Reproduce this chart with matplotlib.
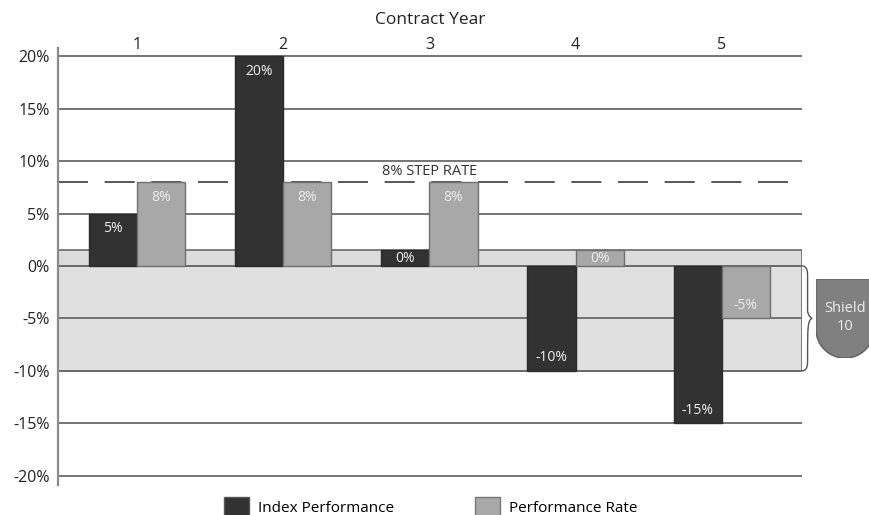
import numpy as np
import matplotlib.pyplot as plt
from matplotlib.patches import Patch, Rectangle, PathPatch
from matplotlib.path import Path
import matplotlib.transforms as mtransforms

plt.rcParams['font.family'] = ['Open Sans', 'DejaVu Sans']

years = ['1', '2', '3', '4', '5']
index_perf = [5, 20, 0, -10, -15]
perf_rate = [8, 8, 8, 0, -5]
step_rate = 8
shield = 10

DARK = '#323232'
GREY = '#a8a8a8'
BAND = '#e0e0e0'
LINE = '#6a6a6a'

fig = plt.figure(figsize=(8.69, 5.15), dpi=100)
ax = fig.add_axes([58 / 869, 1 - 485 / 515, 744 / 869, 437 / 515])

x = np.arange(1, len(years) + 1)
w = 0.33
min_h = 1.5  # zero values drawn as a thin stub


def shown(vals):
    v = np.array(vals, dtype=float)
    return np.where(v == 0, min_h, v)


ax.bar(x - w / 2, shown(index_perf), w, color=DARK, edgecolor='#2a2a2a', lw=1, zorder=3)
ax.bar(x + w / 2, shown(perf_rate), w, color=GREY, edgecolor='#707070', lw=1, zorder=3)

# value labels
def put_labels(xs, vals, color):
    for xi, v in zip(xs, vals):
        if v > 0:
            y = v - 1.45
        elif v < 0:
            y = v + 1.25
        else:
            y = min_h / 2
        ax.text(xi, y, f'{v}%', ha='center', va='center', fontsize=10, color=color, zorder=4)

put_labels(x - w / 2, index_perf, '#f0f0f0')
put_labels(x + w / 2, perf_rate, '#eeeeee')

# shield band and thin band at zero
trans = mtransforms.blended_transform_factory(ax.transAxes, ax.transData)
ax.add_patch(Rectangle((0, -shield), 1, shield, transform=trans, facecolor=BAND,
                       edgecolor=LINE, lw=1.2, zorder=0.2))
ax.add_patch(Rectangle((0, 0), 1, min_h, transform=trans, facecolor='#dcdcdc',
                       edgecolor=LINE, lw=1.2, zorder=0.2))

# step rate line
ax.axhline(step_rate, color='#3a3a3a', lw=1.2, dashes=(18, 10), zorder=1)
ax.text(3.0, step_rate + 1.05, f'{step_rate}% STEP RATE', ha='center', va='center',
        fontsize=10.5, color='#333333', zorder=4)

# curly brace next to the band
bw = 0.0075
verts = [(1.0, 0), (1.0 + bw, 0), (1.0 + bw, -0.6), (1.0 + bw, -1.0),
         (1.0 + bw, -4.2),
         (1.0 + bw, -4.8), (1.0 + 1.8 * bw, -5), (1.0 + 1.8 * bw, -5),
         (1.0 + bw, -5.2), (1.0 + bw, -5.8),
         (1.0 + bw, -9.0),
         (1.0 + bw, -9.4), (1.0 + bw, -10), (1.0, -10)]
codes = [Path.MOVETO, Path.CURVE4, Path.CURVE4, Path.CURVE4,
         Path.LINETO,
         Path.CURVE4, Path.CURVE4, Path.CURVE4,
         Path.CURVE4, Path.CURVE4,
         Path.LINETO,
         Path.CURVE4, Path.CURVE4, Path.CURVE4]
ax.add_patch(PathPatch(Path(verts, codes), transform=trans, facecolor='none',
                       edgecolor='#555555', lw=1.0, clip_on=False, zorder=2))

# axes styling
ax.set_xlim(0.46, 5.548)
ax.set_ylim(-20.9, 20.8)
ax.set_yticks(np.arange(-20, 21, 5))
ax.set_yticklabels([f'{t}%' for t in range(-20, 21, 5)])
ax.set_xticks(x)
ax.set_xticklabels(years)
ax.xaxis.tick_top()
ax.xaxis.set_label_position('top')
ax.set_xlabel('Contract Year', fontsize=12.5, color='#222222', labelpad=9.5)
ax.tick_params(axis='both', length=0, labelsize=11.5, colors='#222222')
ax.tick_params(axis='y', pad=6)
ax.tick_params(axis='x', pad=-3.5)
ax.set_axisbelow(True)
ax.yaxis.grid(True, color=LINE, lw=1.3)
for s in ['top', 'right', 'bottom']:
    ax.spines[s].set_visible(False)
ax.spines['left'].set_color('#8a8a8a')
ax.spines['left'].set_linewidth(1.6)

# shield badge
sax = fig.add_axes([816 / 869, 1 - 358 / 515, 58 / 869, 79 / 515])
sax.set_xlim(0, 58)
sax.set_ylim(0, 79)
sax.axis('off')
r = 29
arc = [(r + r * np.cos(t), r + r * np.sin(t)) for t in np.linspace(0, -np.pi, 60)]
pts = [(0, 79), (58, 79), (58, r)] + arc + [(0, r)]
sax.add_patch(plt.Polygon(pts, closed=True, facecolor='#808080', edgecolor='#666666', lw=1.2))
sax.text(29, 50, 'Shield', ha='center', va='center', fontsize=10.5, color='#eeeeee')
sax.text(29, 31, str(shield), ha='center', va='center', fontsize=10.5, color='#eeeeee')

# legend
handles = [Patch(facecolor=DARK, edgecolor='#555555', label='Index Performance'),
           Patch(facecolor=GREY, edgecolor='#777777', label='Performance Rate')]
fig.legend(handles=handles, loc='upper center', bbox_to_anchor=(0.4955, 1 - 486 / 515),
           ncol=2, frameon=False, fontsize=11, handlelength=1.65, handleheight=1.65,
           handletextpad=0.6, columnspacing=5.27, borderpad=0.2)

fig.savefig('out.png', dpi=100)
